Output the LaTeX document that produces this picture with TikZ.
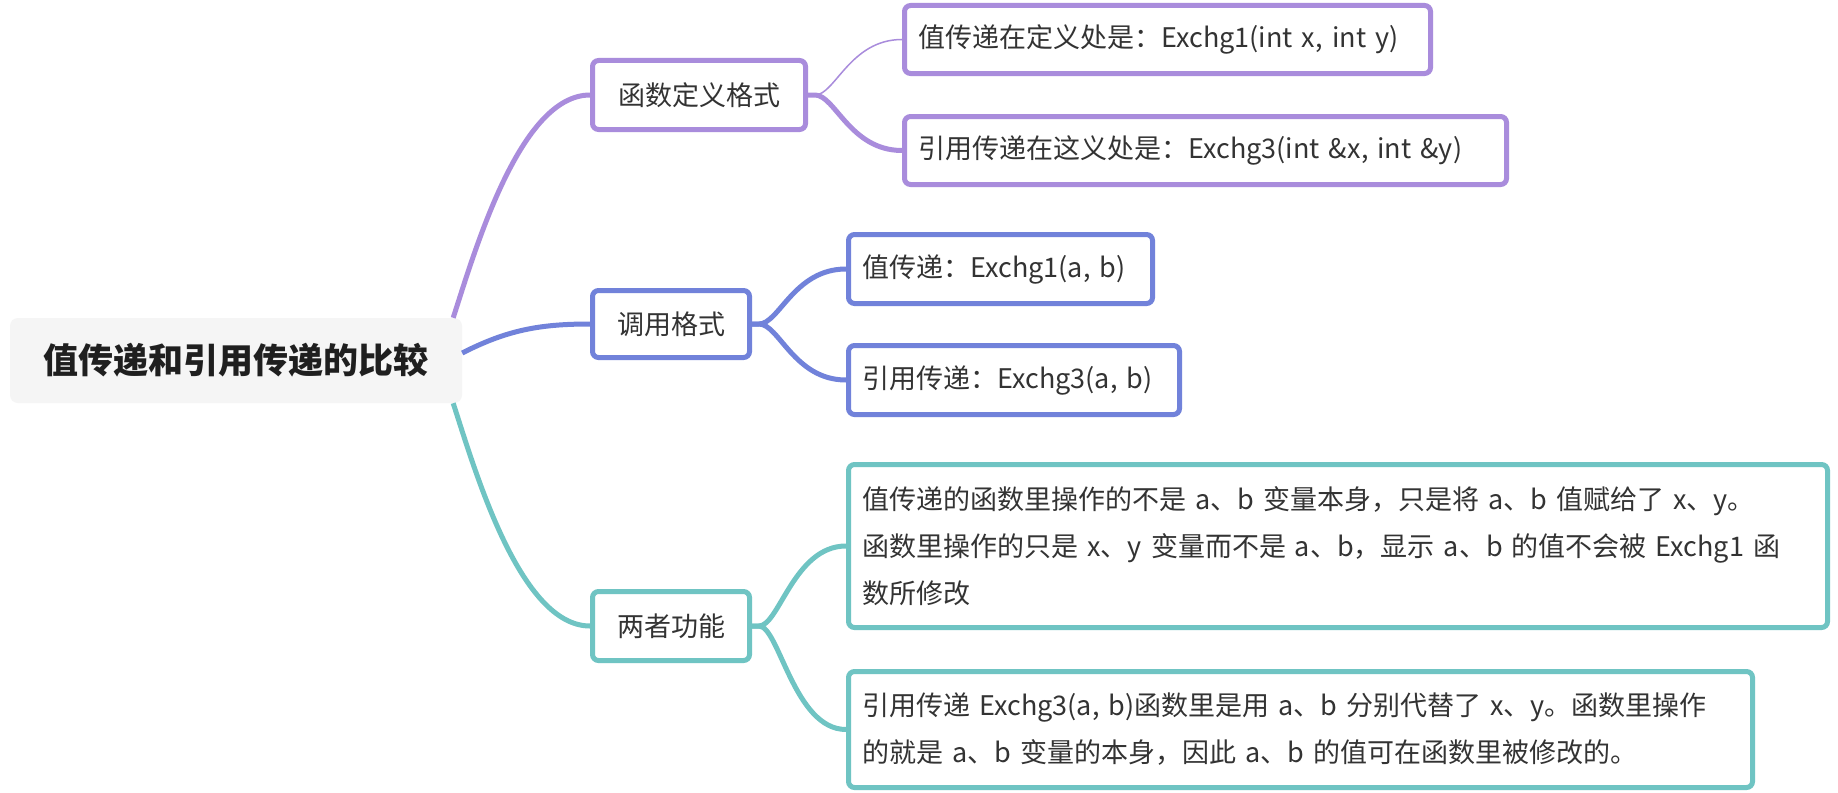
\documentclass[tikz,border=0pt]{standalone}
\usepackage{fontspec}
\setmainfont{Noto Sans CJK SC}
\definecolor{cpurple}{HTML}{A98CDC}
\definecolor{cblue}{HTML}{7182DA}
\definecolor{cteal}{HTML}{6FC4C3}
\definecolor{rootfill}{HTML}{F5F5F5}
\definecolor{txt}{HTML}{333333}
\begin{document}
\begin{tikzpicture}[x=1pt,y=-1pt,
  rootbox/.style={fill=rootfill, rounded corners=8pt, minimum width=452pt, minimum height=85pt, inner sep=0pt, font=\fontsize{35}{42}\selectfont\bfseries, text=black!88},
  midbox/.style={draw=#1, line width=5pt, rounded corners=6pt, fill=white, inner sep=0pt, font=\fontsize{27}{47}\selectfont, text=txt},
  leafbox/.style={draw=#1, line width=5pt, rounded corners=6pt, fill=white, inner xsep=14pt, inner ysep=0pt, align=left, font=\fontsize{27}{47}\selectfont, text=txt},
  conn/.style={draw=#1, line width=5pt},
  thinconn/.style={draw=#1, line width=1.5pt},
]
\useasboundingbox[fill=white] (0,0) rectangle (1838,792);

\node[rootbox] (root) at (236,360.5) {值传递和引用传递的比较};

\node[midbox=cpurple, minimum width=213pt, minimum height=69pt] (def) at (699,95) {函数定义格式};
\node[midbox=cblue, minimum width=157pt, minimum height=67pt] (call) at (671,324) {调用格式};
\node[midbox=cteal, minimum width=157pt, minimum height=69pt] (func) at (671,626) {两者功能};

\node[leafbox=cpurple, text width=498pt, minimum height=68pt] (l1) at (1167.5,39.5) {\mbox{值传递在定义处是：Exchg1(int x, int y)}};
\node[leafbox=cpurple, text width=574pt, minimum height=68pt] (l2) at (1205.5,150.5) {\mbox{引用传递在这义处是：Exchg3(int \&x, int \&y)}};
\node[leafbox=cblue, text width=276pt, minimum height=69pt] (l3) at (1000.5,269) {\mbox{值传递：Exchg1(a, b)}};
\node[leafbox=cblue, text width=303pt, minimum height=69pt] (l4) at (1014,380) {\mbox{引用传递：Exchg3(a, b)}};
\node[leafbox=cteal, text width=951pt, minimum height=163pt] (l5) at (1338,546) {\mbox{值传递的函数里操作的不是 a、b 变量本身，只是将 a、b 值赋给了 x、y。}\\\mbox{函数里操作的只是 x、y 变量而不是 a、b，显示 a、b 的值不会被 Exchg1 函}\\\mbox{数所修改}};
\node[leafbox=cteal, text width=876pt, minimum height=116pt] (l6) at (1300.5,729.5) {\mbox{引用传递 Exchg3(a, b)函数里是用 a、b 分别代替了 x、y。函数里操作}\\\mbox{的就是 a、b 变量的本身，因此 a、b 的值可在函数里被修改的。}};

% main branches
\draw[conn=cpurple] ([xshift=-9pt]root.north east) .. controls +(22,-68) and +(-70,0) .. (def.west);
\draw[conn=cblue] ([yshift=7.5pt]root.east) .. controls +(45,-23) and +(-50,0) .. (call.west);
\draw[conn=cteal] ([xshift=-9pt]root.south east) .. controls +(22,68) and +(-70,0) .. (func.west);

% sub branches
\draw[thinconn=cpurple] (def.east) -- ++(7,0) .. controls +(20,0) and +(-52,0) .. (l1.west);
\draw[conn=cpurple] (def.east) -- ++(7,0) .. controls +(20,0) and +(-52,0) .. (l2.west);
\draw[conn=cblue] (call.east) -- ++(7,0) .. controls +(20,0) and +(-52,0) .. (l3.west);
\draw[conn=cblue] (call.east) -- ++(7,0) .. controls +(20,0) and +(-52,0) .. (l4.west);
\draw[conn=cteal] (func.east) -- ++(7,0) .. controls +(20,0) and +(-52,0) .. (l5.west);
\draw[conn=cteal] (func.east) -- ++(7,0) .. controls +(20,0) and +(-52,0) .. (l6.west);
\end{tikzpicture}
\end{document}
